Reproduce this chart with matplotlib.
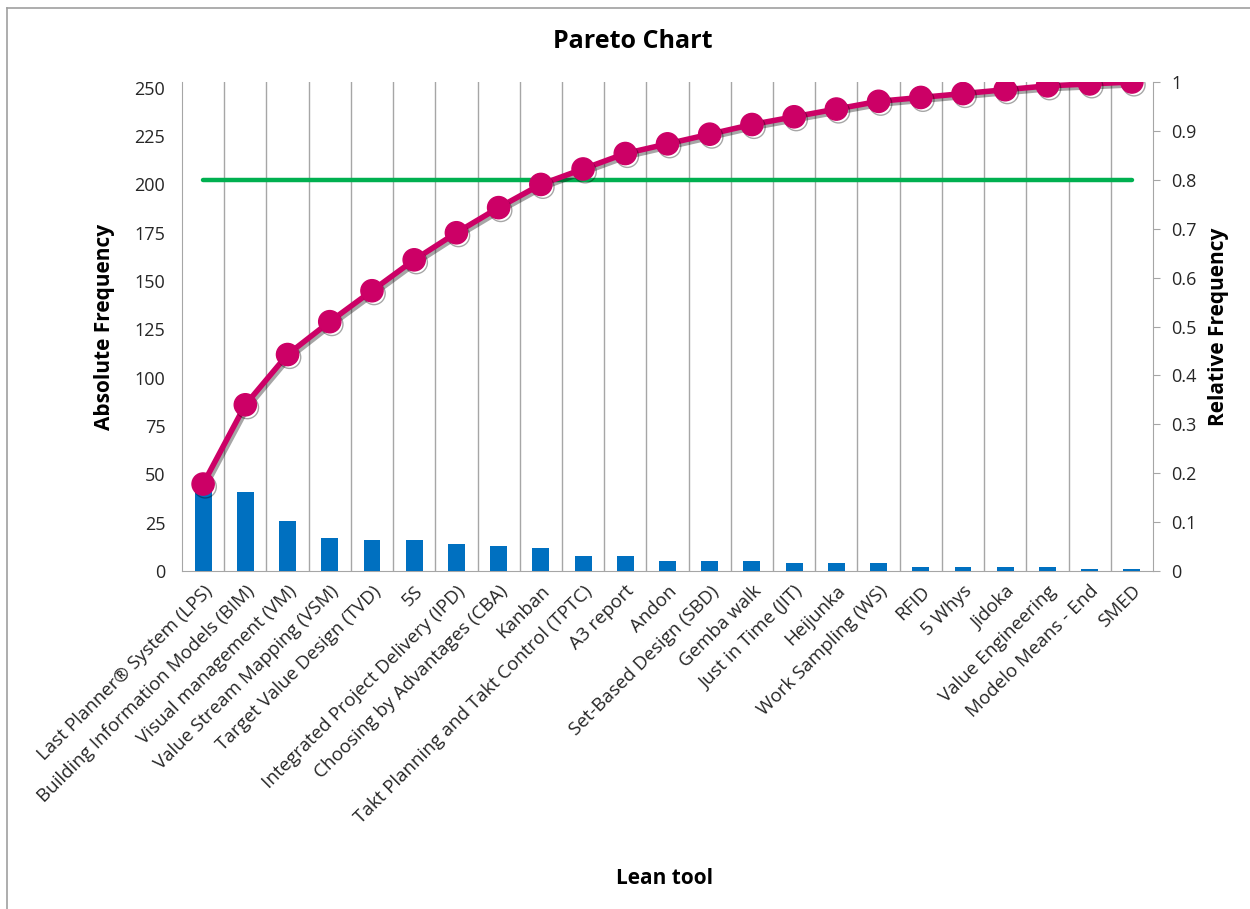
import matplotlib
matplotlib.use('Agg')
import matplotlib.pyplot as plt
import matplotlib.patheffects as pe
import numpy as np

plt.rcParams['font.family'] = ['Open Sans', 'DejaVu Sans']

tools = ['Last Planner® System (LPS)', 'Building Information Models (BIM)',
         'Visual management (VM)', 'Value Stream Mapping (VSM)',
         'Target Value Design (TVD)', '5S', 'Integrated Project Delivery (IPD)',
         'Choosing by Advantages (CBA)', 'Kanban', 'Takt Planning and Takt Control (TPTC)',
         'A3 report', 'Andon', 'Set-Based Design (SBD)', 'Gemba walk',
         'Just in Time (JIT)', 'Heijunka', 'Work Sampling (WS)', 'RFID', '5 Whys',
         'Jidoka', 'Value Engineering', 'Modelo Means - End', 'SMED']
counts = [45, 41, 26, 17, 16, 16, 14, 13, 12, 8, 8, 5, 5, 5, 4, 4, 4, 2, 2, 2, 2, 1, 1]
threshold = 0.8

total = sum(counts)
cum_rel = np.cumsum(counts) / total
x = np.arange(len(tools))

fig = plt.figure(figsize=(12.5, 9.09), dpi=100)
ax = fig.add_axes([0.1456, 0.3718, 0.7768, 0.538])
ax2 = ax.twinx()

grid_col = '#A6A6A6'
text_col = '#262626'

# bars
ax.bar(x, counts, width=0.4, color='#0070C0', zorder=3)
ax.set_xlim(-0.5, len(tools) - 0.5)
ax.set_ylim(0, total)
ax.set_yticks(np.arange(0, 251, 25))
for b in np.arange(0.5, len(tools) - 1, 1):
    ax.axvline(b, color=grid_col, lw=1, zorder=1)

ax.set_xticks(x)
ax.set_xticklabels(tools, rotation=45, ha='right', rotation_mode='anchor',
                   fontsize=13.5, color=text_col)
ax.tick_params(axis='x', length=0, pad=8)
ax.tick_params(axis='y', length=0, labelsize=13, labelcolor=text_col, pad=12)
for s in ['top', 'right']:
    ax.spines[s].set_visible(False)
for s in ['left', 'bottom']:
    ax.spines[s].set_color(grid_col)

# cumulative line + 80% line
ax2.plot(x, cum_rel, color='#CC0066', lw=4, marker='o', markersize=16, zorder=5,
         path_effects=[pe.SimpleLineShadow(offset=(1.5, -2), alpha=0.35), pe.Normal()])
ax2.plot([x[0], x[-1]], [threshold, threshold], color='#00B050', lw=3.2,
         solid_capstyle='round', zorder=4)
ax2.set_ylim(0, 1)
ax2.set_yticks(np.arange(0, 1.01, 0.1))
ax2.set_yticklabels(['0'] + ['%.1f' % v for v in np.arange(0.1, 0.95, 0.1)] + ['1'])
ax2.tick_params(axis='y', length=5, color=grid_col, labelsize=13, labelcolor=text_col, pad=8)
for s in ['top', 'left', 'bottom']:
    ax2.spines[s].set_visible(False)
ax2.spines['right'].set_color(grid_col)

ax.set_ylabel('Absolute Frequency', fontsize=15, fontweight='bold', labelpad=14)
ax2.set_ylabel('Relative Frequency', fontsize=15, fontweight='bold', labelpad=8)
fig.text(0.532, 0.034, 'Lean tool', fontsize=15, fontweight='bold', ha='center', va='center')
fig.text(0.506, 0.954, 'Pareto Chart', fontsize=18, fontweight='bold', ha='center', va='center')

# outer chart frame (left and top edges visible)
fig.add_artist(plt.Line2D([0.0056, 0.0056], [0, 0.991], color='#A0A0A0', lw=1.2))
fig.add_artist(plt.Line2D([0.0056, 1], [0.991, 0.991], color='#A0A0A0', lw=1.2))

fig.savefig('out.png', dpi=100)
